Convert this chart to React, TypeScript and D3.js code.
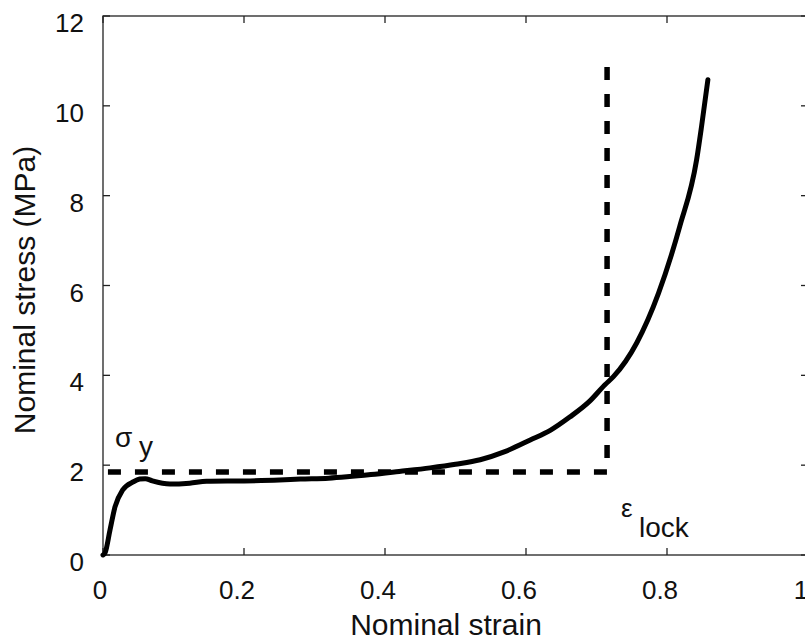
import React, { useEffect, useRef } from 'react';
import * as d3 from 'd3';

// stress-strain curve
const strain = [0, 0.003, 0.01, 0.017, 0.028, 0.043, 0.052, 0.06, 0.07, 0.095, 0.123, 0.147, 0.2, 0.25, 0.28, 0.32, 0.346, 0.38, 0.42, 0.464, 0.5, 0.535, 0.57, 0.606, 0.635, 0.662, 0.69, 0.712, 0.724, 0.757, 0.788, 0.818, 0.842, 0.849, 0.858];
const stress = [0, 0.05, 0.56, 1.07, 1.45, 1.63, 1.69, 1.7, 1.65, 1.58, 1.6, 1.64, 1.65, 1.67, 1.69, 1.71, 1.74, 1.79, 1.86, 1.94, 2.02, 2.12, 2.3, 2.56, 2.78, 3.07, 3.42, 3.79, 3.97, 4.72, 5.83, 7.31, 8.8, 9.54, 10.58];

const sigmaY = 1.85;
const epsLock = 0.715;
const dashTop = 11;

const xTicks = [0, 0.2, 0.4, 0.6, 0.8, 1];
const yTicks = [0, 2, 4, 6, 8, 10, 12];

const FONT = '"Liberation Sans", Arial, Helvetica, sans-serif';

const App = () => {
  const svgRef = useRef<SVGSVGElement>(null);

  useEffect(() => {
    const svg = d3.select(svgRef.current);
    svg.selectAll('*').remove();

    const left = 103, right = 808, top = 16, bottom = 555;
    const x = d3.scaleLinear().domain([0, 1]).range([left, right]);
    const y = d3.scaleLinear().domain([0, 12]).range([bottom, top]);

    // box
    svg.append('rect')
      .attr('x', left).attr('y', top)
      .attr('width', right - left).attr('height', bottom - top)
      .attr('fill', 'none').attr('stroke', '#222').attr('stroke-width', 1.3);

    // inward ticks on all four sides
    const tl = 7;
    const g = svg.append('g').attr('stroke', '#222').attr('stroke-width', 1.3);
    xTicks.forEach(t => {
      g.append('line').attr('x1', x(t)).attr('x2', x(t)).attr('y1', bottom).attr('y2', bottom - tl);
      g.append('line').attr('x1', x(t)).attr('x2', x(t)).attr('y1', top).attr('y2', top + tl);
    });
    yTicks.forEach(t => {
      g.append('line').attr('x1', left).attr('x2', left + tl).attr('y1', y(t)).attr('y2', y(t));
      g.append('line').attr('x1', right).attr('x2', right - tl).attr('y1', y(t)).attr('y2', y(t));
    });

    // tick labels
    svg.append('g').selectAll('text')
      .data(xTicks)
      .enter()
      .append('text')
      .attr('x', d => x(d) - (d === 0 ? 3 : 7))
      .attr('y', 599)
      .attr('text-anchor', 'middle')
      .attr('font-family', FONT)
      .attr('font-size', 26)
      .attr('fill', '#111')
      .text(d => String(d));

    svg.append('g').selectAll('text')
      .data(yTicks)
      .enter()
      .append('text')
      .attr('x', 84)
      .attr('y', d => y(d) + 16)
      .attr('text-anchor', 'end')
      .attr('font-family', FONT)
      .attr('font-size', 26)
      .attr('fill', '#111')
      .text(d => String(d));

    // axis titles
    svg.append('text')
      .attr('x', 446).attr('y', 635)
      .attr('text-anchor', 'middle')
      .attr('font-family', FONT).attr('font-size', 30).attr('fill', '#111')
      .text('Nominal strain');

    svg.append('text')
      .attr('transform', 'translate(35, 290) rotate(-90)')
      .attr('text-anchor', 'middle')
      .attr('font-family', FONT).attr('font-size', 30).attr('fill', '#111')
      .text('Nominal stress (MPa)');

    // dashed yield / lock-up guide
    const guide = d3.line<[number, number]>().x(d => x(d[0])).y(d => y(d[1]));
    svg.append('path')
      .attr('d', guide([[0.007, sigmaY], [epsLock, sigmaY], [epsLock, dashTop]]))
      .attr('fill', 'none')
      .attr('stroke', '#000')
      .attr('stroke-width', 5.5)
      .attr('stroke-dasharray', '13 14');

    // measured curve
    const curve = d3.line<number>()
      .x((_, i) => x(strain[i]))
      .y(d => y(d))
      .curve(d3.curveMonotoneX);
    svg.append('path')
      .attr('d', curve(stress))
      .attr('fill', 'none')
      .attr('stroke', '#000')
      .attr('stroke-width', 5)
      .attr('stroke-linejoin', 'round')
      .attr('stroke-linecap', 'round');

    // annotations
    const sig = svg.append('text').attr('font-family', FONT).attr('font-size', 28).attr('fill', '#111');
    sig.append('tspan').attr('x', 115).attr('y', 447).text('σ');
    sig.append('tspan').attr('x', 139).attr('y', 456).text('y');

    const eps = svg.append('text').attr('font-family', FONT).attr('font-size', 28).attr('fill', '#111');
    eps.append('tspan').attr('x', 621).attr('y', 517).attr('font-size', 26).text('ε');
    eps.append('tspan').attr('x', 639).attr('y', 537).text('lock');
  }, []);

  return (
    <div style={{ position: 'absolute', left: 0, top: 0 }}>
      <svg ref={svgRef} width={805} height={644} style={{ display: 'block', background: '#fff' }}></svg>
    </div>
  );
};

export default App;
